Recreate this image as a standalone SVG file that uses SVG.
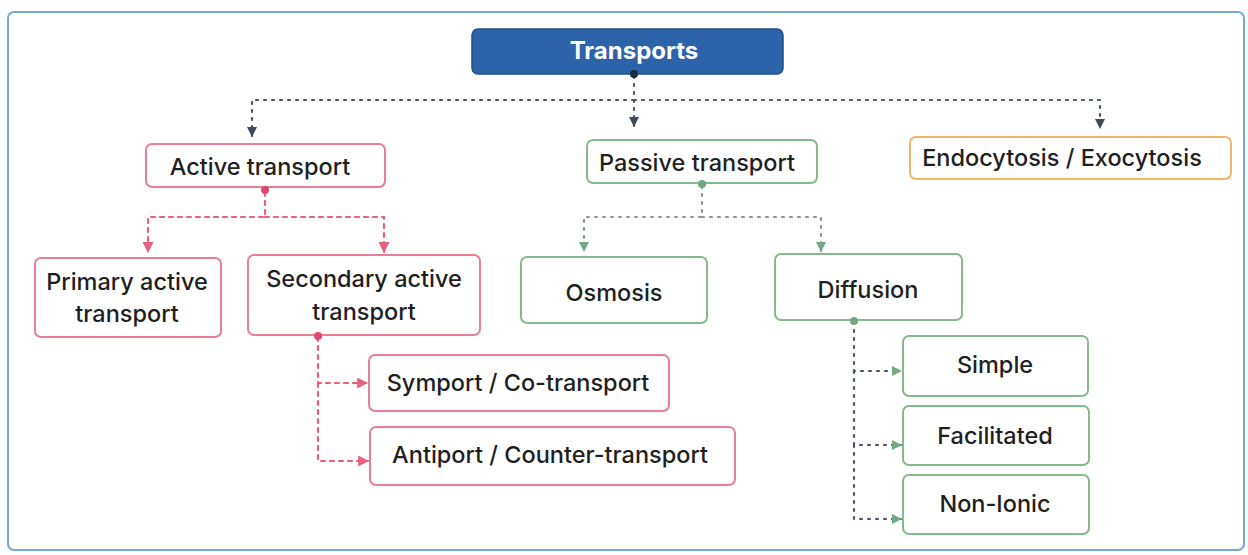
<svg xmlns="http://www.w3.org/2000/svg" width="1248" height="555" viewBox="0 0 1248 555">
<defs>
<marker id="aDark" viewBox="0 0 10 10" refX="9" refY="5" markerWidth="10" markerHeight="10" markerUnits="userSpaceOnUse" orient="auto"><path d="M0,0 L10,5 L0,10 z" fill="#3f4a5a"/></marker>
<marker id="aPink" viewBox="0 0 10 10" refX="9" refY="5" markerWidth="11" markerHeight="11" markerUnits="userSpaceOnUse" orient="auto"><path d="M0,0 L10,5 L0,10 z" fill="#e8607f"/></marker>
<marker id="aGreen" viewBox="0 0 10 10" refX="9" refY="5" markerWidth="10" markerHeight="10" markerUnits="userSpaceOnUse" orient="auto"><path d="M0,0 L10,5 L0,10 z" fill="#6fa883"/></marker>
</defs>
<style>
text{font-family:Inter,"Noto Sans","Liberation Sans",sans-serif;fill:#1f1f1f;font-size:23.5px;font-weight:500;text-anchor:middle;dominant-baseline:central}
.box{fill:#fff;stroke-width:2}
.pink{stroke:#e87e98}
.green{stroke:#86b98e}
.orange{stroke:#f2b66b}
.ln{fill:none;stroke-width:2.2;stroke-linecap:round;stroke-dasharray:2 6}
.dk{stroke:#4a5568}
.pk{stroke:#e8607f;stroke-dasharray:4 5}
.gr{stroke:#8a9a90}
.dot{stroke:none}
</style>
<rect x="8" y="12" width="1236" height="538" rx="6" fill="#fff" stroke="#74a7dc" stroke-width="2"/>
<g id="connectors">
<path class="ln dk" d="M634,76 V126" marker-end="url(#aDark)"/>
<path class="ln dk" d="M634,100 H252 V136" marker-end="url(#aDark)"/>
<path class="ln dk" d="M634,100 H1100 V128" marker-end="url(#aDark)"/>
<path class="ln pk" d="M265,192 V217 H148 V252" marker-end="url(#aPink)"/>
<path class="ln pk" d="M265,217 H384 V252" marker-end="url(#aPink)"/>
<path class="ln gr" d="M702,186 V217 H584 V251" marker-end="url(#aGreen)"/>
<path class="ln gr" d="M702,217 H821 V251" marker-end="url(#aGreen)"/>
<path class="ln pk" d="M318,337 V383 H367" marker-end="url(#aPink)"/>
<path class="ln pk" d="M318,383 V461 H368" marker-end="url(#aPink)"/>
<path class="ln dk" d="M854,322 V371 H901" marker-end="url(#aGreen)"/>
<path class="ln dk" d="M854,371 V445 H901" marker-end="url(#aGreen)"/>
<path class="ln dk" d="M854,445 V519 H901" marker-end="url(#aGreen)"/>
</g>
<g id="n-transports">
<rect x="472" y="29" width="311" height="45" rx="6" fill="#2d63a8" stroke="#1f4f8c" stroke-width="1.5"/>
<text x="634" y="50" style="fill:#fff;font-weight:700;font-size:24px">Transports</text>
<circle class="dot" cx="634" cy="74" r="4" fill="#1d2a3a"/>
</g>
<g id="n-active">
<rect class="box pink" x="146" y="144" width="239" height="43" rx="6"/>
<text x="260" y="166">Active transport</text>
<circle class="dot" cx="265" cy="190" r="4" fill="#e0486f"/>
</g>
<g id="n-passive">
<rect class="box green" x="587" y="140" width="230" height="43" rx="6"/>
<text x="697" y="162">Passive transport</text>
<circle class="dot" cx="702" cy="184" r="4" fill="#6fa883"/>
</g>
<g id="n-endo">
<rect class="box orange" x="910" y="137" width="321" height="42" rx="6"/>
<text x="1062" y="157">Endocytosis / Exocytosis</text>
</g>
<g id="n-primary">
<rect class="box pink" x="35" y="258" width="186" height="79" rx="6"/>
<text x="127" y="281">Primary active</text>
<text x="127" y="313">transport</text>
</g>
<g id="n-secondary">
<rect class="box pink" x="248" y="255" width="232" height="80" rx="6"/>
<text x="364" y="278">Secondary active</text>
<text x="364" y="311">transport</text>
<circle class="dot" cx="318" cy="336" r="4" fill="#e0486f"/>
</g>
<g id="n-osmosis">
<rect class="box green" x="521" y="257" width="186" height="66" rx="6"/>
<text x="614" y="292">Osmosis</text>
</g>
<g id="n-diffusion">
<rect class="box green" x="775" y="254" width="187" height="66" rx="6"/>
<text x="868" y="289">Diffusion</text>
<circle class="dot" cx="854" cy="321" r="4" fill="#6fa883"/>
</g>
<g id="n-symport">
<rect class="box pink" x="369" y="355" width="300" height="56" rx="6"/>
<text x="518" y="382">Symport / Co-transport</text>
</g>
<g id="n-antiport">
<rect class="box pink" x="370" y="427" width="365" height="58" rx="6"/>
<text x="550" y="454">Antiport / Counter-transport</text>
</g>
<g id="n-simple">
<rect class="box green" x="903" y="336" width="185" height="60" rx="6"/>
<text x="995" y="364">Simple</text>
</g>
<g id="n-facilitated">
<rect class="box green" x="903" y="406" width="186" height="59" rx="6"/>
<text x="995" y="435">Facilitated</text>
</g>
<g id="n-nonionic">
<rect class="box green" x="903" y="475" width="186" height="59" rx="6"/>
<text x="995" y="503">Non-Ionic</text>
</g>
</svg>
